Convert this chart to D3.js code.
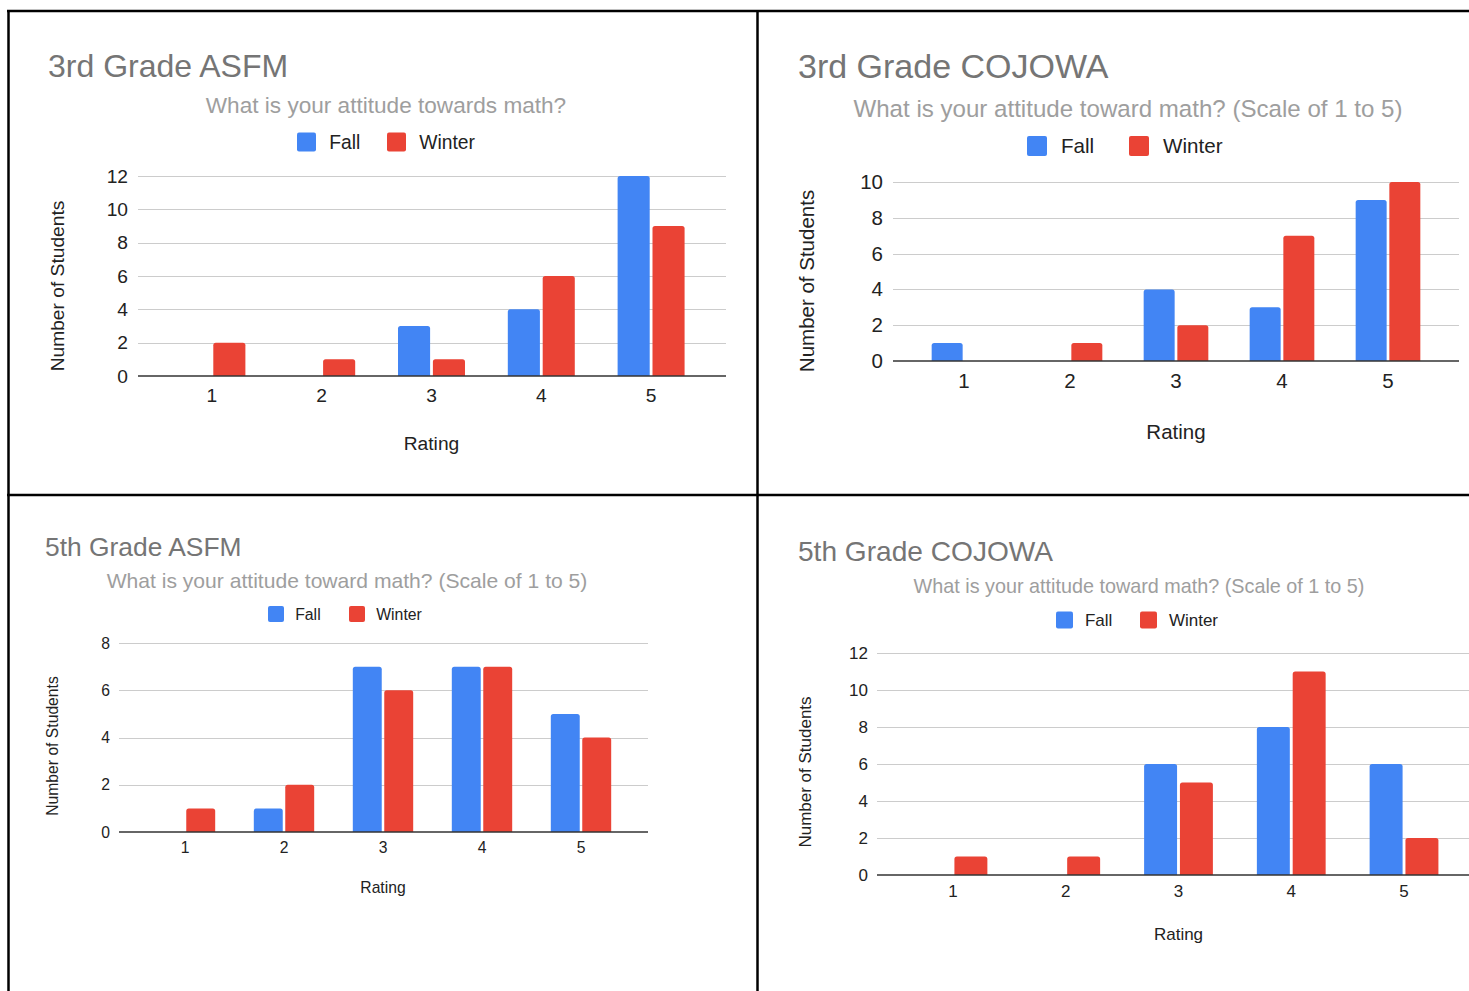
<!DOCTYPE html>
<html>
<head>
<meta charset="utf-8">
<script src="https://cdn.jsdelivr.net/npm/d3@7"></script>
<style>
  html, body { margin: 0; padding: 0; background: #fff; }
  svg { display: block; }
  text { font-family: "Liberation Sans", Arial, sans-serif; }
</style>
</head>
<body>
<svg id="chart" width="1469" height="991"></svg>
<script>
// Survey results: number of students per rating (1–5), Fall vs Winter
const ratings = ["1", "2", "3", "4", "5"];
const seriesNames = ["Fall", "Winter"];
const seriesColors = ["#4285F4", "#EA4335"];

const asfm3Fall   = [0, 0, 3, 4, 12];
const asfm3Winter = [2, 1, 1, 6, 9];
const cojowa3Fall   = [1, 0, 4, 3, 9];
const cojowa3Winter = [0, 1, 2, 7, 10];
const asfm5Fall   = [0, 1, 7, 7, 5];
const asfm5Winter = [1, 2, 6, 7, 4];
const cojowa5Fall   = [0, 0, 6, 8, 6];
const cojowa5Winter = [1, 1, 5, 11, 2];

const asfm3Ticks   = [0, 2, 4, 6, 8, 10, 12];
const cojowa3Ticks = [0, 2, 4, 6, 8, 10];
const asfm5Ticks   = [0, 2, 4, 6, 8];
const cojowa5Ticks = [0, 2, 4, 6, 8, 10, 12];

const titles = ["3rd Grade ASFM", "3rd Grade COJOWA", "5th Grade ASFM", "5th Grade COJOWA"];
const subtitles = [
  "What is your attitude towards math?",
  "What is your attitude toward math? (Scale of 1 to 5)",
  "What is your attitude toward math? (Scale of 1 to 5)",
  "What is your attitude toward math? (Scale of 1 to 5)"
];
const yTitle = "Number of Students";
const xTitle = "Rating";

const svg = d3.select("#chart");

// Layout for each of the four chart panels
const panels = [
  { title: titles[0], subtitle: subtitles[0], fall: asfm3Fall, winter: asfm3Winter, ticks: asfm3Ticks,
    titleX: 48, titleY: 77, titleSize: 32,
    subX: 386, subY: 113, subSize: 22.6,
    legY: 142, legSq: 19, legItems: [297, 387], legSize: 19.3,
    plotL: 138, plotR: 726, y0: 376, yTop: 176, catA: 157, catB: 706,
    tickX: 128, yTitleX: 57, yTitleY: 286, xLabY: 402, xTitleY: 450, axisSize: 19.2 },
  { title: titles[1], subtitle: subtitles[1], fall: cojowa3Fall, winter: cojowa3Winter, ticks: cojowa3Ticks,
    titleX: 798, titleY: 78, titleSize: 34,
    subX: 1128, subY: 117, subSize: 24.1,
    legY: 146, legSq: 20, legItems: [1027, 1129], legSize: 20.6,
    plotL: 893, plotR: 1459, y0: 361, yTop: 182, catA: 911, catB: 1441,
    tickX: 883, yTitleX: 807, yTitleY: 281, xLabY: 388, xTitleY: 439, axisSize: 20.5 },
  { title: titles[2], subtitle: subtitles[2], fall: asfm5Fall, winter: asfm5Winter, ticks: asfm5Ticks,
    titleX: 45, titleY: 556, titleSize: 26.4,
    subX: 347, subY: 588, subSize: 21.1,
    legY: 614, legSq: 16, legItems: [268, 349], legSize: 15.8,
    plotL: 119, plotR: 648, y0: 832, yTop: 643, catA: 135.5, catB: 630.5,
    tickX: 110, yTitleX: 52, yTitleY: 746, xLabY: 853, xTitleY: 893, axisSize: 15.7 },
  { title: titles[3], subtitle: subtitles[3], fall: cojowa5Fall, winter: cojowa5Winter, ticks: cojowa5Ticks,
    titleX: 798, titleY: 561, titleSize: 28.1,
    subX: 1139, subY: 593, subSize: 19.8,
    legY: 620, legSq: 17, legItems: [1056, 1140], legSize: 17,
    plotL: 877, plotR: 1469, y0: 875, yTop: 653, catA: 896.6, catB: 1460.4,
    tickX: 868, yTitleX: 805, yTitleY: 772, xLabY: 897, xTitleY: 940, axisSize: 17 }
];

// Bar path with slightly rounded top corners
function barPath(x, y, w, h, r) {
  r = Math.min(r, w / 2, h);
  if (h <= 0) return "";
  return `M${x},${y + h}V${y + r}Q${x},${y} ${x + r},${y}H${x + w - r}Q${x + w},${y} ${x + w},${y + r}V${y + h}Z`;
}

function drawPanel(p) {
  const g = svg.append("g");
  const maxTick = d3.max(p.ticks);

  const y = d3.scaleLinear().domain([0, maxTick]).range([p.y0, p.yTop]);
  const x0 = d3.scaleBand().domain(ratings)
    .range([p.catA, p.catB])
    .paddingInner(0.39).paddingOuter(0.195);
  const x1 = d3.scaleBand().domain(seriesNames)
    .range([0, x0.bandwidth()]).paddingInner(0.08);

  // Titles
  g.append("text").attr("x", p.titleX).attr("y", p.titleY)
    .attr("font-size", p.titleSize).attr("fill", "#757575").text(p.title);
  g.append("text").attr("x", p.subX).attr("y", p.subY).attr("text-anchor", "middle")
    .attr("font-size", p.subSize).attr("fill", "#9e9e9e").text(p.subtitle);

  // Legend
  seriesNames.forEach((name, i) => {
    const lx = p.legItems[i];
    g.append("rect").attr("x", lx).attr("y", p.legY - p.legSq / 2)
      .attr("width", p.legSq).attr("height", p.legSq).attr("rx", 2)
      .attr("fill", seriesColors[i]);
    g.append("text").attr("x", lx + p.legSq * 1.7).attr("y", p.legY)
      .attr("dy", "0.35em").attr("font-size", p.legSize).attr("fill", "#222").text(name);
  });

  // Gridlines
  g.append("g").selectAll("line").data(p.ticks.filter(t => t !== 0)).join("line")
    .attr("x1", p.plotL).attr("x2", p.plotR)
    .attr("y1", d => Math.round(y(d)) + 0.5).attr("y2", d => Math.round(y(d)) + 0.5)
    .attr("stroke", "#cccccc").attr("stroke-width", 1.2);

  // Y axis tick labels
  const yAxis = d3.axisLeft(y).tickValues(p.ticks).tickSize(0).tickPadding(0);
  const ya = g.append("g").attr("transform", `translate(${p.tickX},0)`).call(yAxis);
  ya.select(".domain").remove();
  ya.selectAll("text").attr("font-size", p.axisSize).attr("fill", "#222")
    .attr("font-family", "Liberation Sans, Arial, sans-serif");

  // Bars
  const rows = ratings.map((r, i) => ({ r, vals: [p.fall[i], p.winter[i]] }));
  const groups = g.append("g").selectAll("g").data(rows).join("g")
    .attr("transform", d => `translate(${x0(d.r)},0)`);
  groups.selectAll("path").data(d => d.vals.map((v, i) => ({ v, s: seriesNames[i], c: seriesColors[i] })))
    .join("path")
    .attr("d", d => barPath(x1(d.s), y(d.v), x1.bandwidth(), y(0) - y(d.v), 2.5))
    .attr("fill", d => d.c);

  // Baseline
  g.append("line").attr("x1", p.plotL).attr("x2", p.plotR)
    .attr("y1", p.y0).attr("y2", p.y0).attr("stroke", "#333").attr("stroke-width", 1.5);

  // X axis category labels
  const xAxis = d3.axisBottom(x0).tickSize(0).tickPadding(0);
  const xa = g.append("g").attr("transform", `translate(0,${p.xLabY})`).call(xAxis);
  xa.select(".domain").remove();
  xa.selectAll("text").attr("dy", 0).attr("y", 0).attr("font-size", p.axisSize).attr("fill", "#222")
    .attr("font-family", "Liberation Sans, Arial, sans-serif");

  // Axis titles
  const cx = (p.catA + p.catB) / 2;
  g.append("text").attr("x", cx).attr("y", p.xTitleY).attr("text-anchor", "middle")
    .attr("font-size", p.axisSize).attr("fill", "#222").text(xTitle);
  g.append("text").attr("transform", `translate(${p.yTitleX},${p.yTitleY}) rotate(-90)`)
    .attr("text-anchor", "middle").attr("dy", "0.35em")
    .attr("font-size", p.axisSize).attr("fill", "#222").text(yTitle);
}

panels.forEach(drawPanel);

// Frame lines separating the four panels
const frame = svg.append("g").attr("stroke", "#000").attr("stroke-width", 2.5);
frame.append("line").attr("x1", 7).attr("x2", 1469).attr("y1", 11).attr("y2", 11);
frame.append("line").attr("x1", 8.5).attr("x2", 8.5).attr("y1", 10).attr("y2", 991);
frame.append("line").attr("x1", 757.5).attr("x2", 757.5).attr("y1", 10).attr("y2", 991);
frame.append("line").attr("x1", 7).attr("x2", 1469).attr("y1", 495).attr("y2", 495);
</script>
</body>
</html>
